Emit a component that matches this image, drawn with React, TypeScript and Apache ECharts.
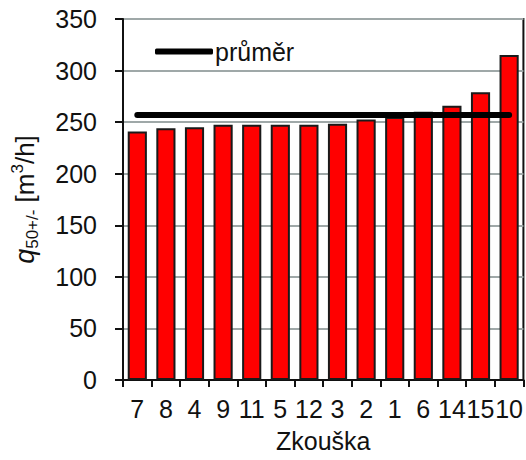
import React, { useEffect, useRef } from "react";
import * as echarts from "echarts";

const categories = ["7", "8", "4", "9", "11", "5", "12", "3", "2", "1", "6", "14", "15", "10"];
const values = [241, 244, 245, 247.5, 247.5, 247.5, 247.5, 248.5, 252.5, 255, 260, 266, 279, 315];
const averageValue = 257;
const averageLine = [
  ["7", averageValue],
  ["10", averageValue],
];
const yTicks = { min: 0, max: 350, interval: 50 };

const FONT = "Liberation Sans, Arial, sans-serif";
const FS = 25;

export default function App() {
  const ref = useRef<HTMLDivElement>(null);
  useEffect(() => {
    if (!ref.current) return;
    const chart = echarts.init(ref.current, null, { renderer: "svg" });
    chart.setOption({
      animation: false,
      backgroundColor: "#ffffff",
      textStyle: { fontFamily: FONT },
      grid: {
        left: 123,
        right: 2,
        top: 19,
        bottom: 80,
        show: true,
        borderColor: "#111",
        borderWidth: 2,
        containLabel: false,
      },
      legend: {
        show: true,
        left: 150,
        top: 34,
        data: [{ name: "průměr", icon: "roundRect" }],
        itemWidth: 58,
        itemHeight: 6,
        itemGap: 4,
        textStyle: { fontSize: FS, color: "#111", fontFamily: FONT, padding: [0, 0, 0, -3] },
      },
      xAxis: {
        type: "category",
        data: categories,
        axisLine: { show: true, lineStyle: { color: "#111", width: 2 } },
        axisTick: { show: true, length: 7, lineStyle: { color: "#111", width: 2 } },
        axisLabel: {
          fontSize: FS,
          color: "#111",
          fontFamily: FONT,
          margin: 16,
          interval: 0,
        },
        name: "Zkouška",
        nameLocation: "middle",
        nameGap: 48,
        nameTextStyle: { fontSize: FS, color: "#111", fontFamily: FONT },
      },
      yAxis: {
        type: "value",
        min: yTicks.min,
        max: yTicks.max,
        interval: yTicks.interval,
        axisLine: { show: true, lineStyle: { color: "#111", width: 2 } },
        axisTick: { show: true, length: 8, lineStyle: { color: "#111", width: 2 } },
        axisLabel: { fontSize: FS, color: "#111", fontFamily: FONT, margin: 26 },
        splitLine: { show: true, lineStyle: { color: "#9fa8a8", width: 2 } },
        name: "{q|q}{sub|50+/-} [m{sup|3}/h]",
        nameLocation: "middle",
        nameGap: 82,
        nameRotate: 90,
        nameTextStyle: {
          fontSize: 26,
          color: "#111",
          fontFamily: FONT,
          rich: {
            q: { fontSize: 27, fontStyle: "italic", fontFamily: FONT, color: "#111", lineHeight: 32 },
            sub: { fontSize: 17, fontFamily: FONT, color: "#111", verticalAlign: "bottom", lineHeight: 32 },
            sup: { fontSize: 17, fontFamily: FONT, color: "#111", verticalAlign: "top", lineHeight: 32 },
          },
        },
      },
      series: [
        {
          type: "bar",
          name: "bars",
          data: values,
          barWidth: "67%",
          itemStyle: { color: "#ff0000", borderColor: "#1a1a1a", borderWidth: 2 },
          z: 2,
        },
        {
          type: "line",
          name: "průměr",
          data: averageLine,
          symbol: "none",
          lineStyle: { color: "#000", width: 6, cap: "round" },
          itemStyle: { color: "#000" },
          z: 5,
        },
      ],
    });
    return () => chart.dispose();
  }, []);
  return (
    <div
      ref={ref}
      style={{ position: "absolute", left: 0, top: 0, width: 526, height: 460 }}
    />
  );
}
